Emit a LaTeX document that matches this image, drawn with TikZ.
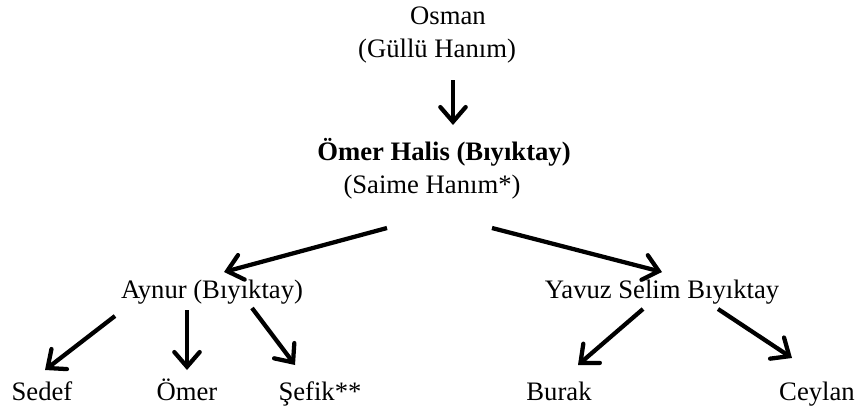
\documentclass[tikz,border=0pt]{standalone}
\usepackage{fontspec}
\setmainfont{Liberation Serif}
\usepackage{tikz}
\usetikzlibrary{arrows.meta,calc}
\tikzset{
  person/.style={anchor=base, inner sep=0pt, font=\fontsize{20}{24}\selectfont},
  arrow/.style={-{Straight Barb[length=11pt,width=19pt,line cap=round]}, line width=3.2pt},
}

\begin{document}
\begin{tikzpicture}[x=0.75pt, y=-0.75pt]
  \useasboundingbox (0,0) rectangle (859,410);
  \node[person] (osman)  at (448,25)  {Osman};
  \node[person] (gullu)  at (437,58)  {(Güllü Hanım)};
  \node[person, font=\fontsize{20}{24}\selectfont\bfseries] (omerhalis) at (444,160) {Ömer Halis (Bıyıktay)};
  \node[person] (saime)  at (432,193) {(Saime Hanım*)};
  \node[person] (aynur)  at (212,298) {Aynur (Bıyıktay)};
  \node[person] (yavuz)  at (662,298) {Yavuz Selim Bıyıktay};
  \node[person] (sedef)  at (42,400)  {Sedef};
  \node[person] (omer)   at (187,400) {Ömer};
  \node[person] (sefik)  at (320,400) {Şefik**};
  \node[person] (burak)  at (559,400) {Burak};
  \node[person] (ceylan) at (817,400) {Ceylan};
  \draw[arrow] ($(gullu.base)+(16,22)$) -- ($(omerhalis.base)+(9,-35)$);
  \draw[arrow] ($(saime.base)+(-45,35)$) -- ($(aynur.base)+(12,-26)$);
  \draw[arrow] ($(saime.base)+(60,35)$) -- ($(yavuz.base)+(0,-26)$);
  \draw[arrow] ($(aynur.base)+(-97,18)$) -- ($(sedef.base)+(3,-30)$);
  \draw[arrow] ($(aynur.base)+(-25,12)$) -- ($(omer.base)+(0,-30)$);
  \draw[arrow] ($(aynur.base)+(40,10)$) -- ($(sefik.base)+(-25,-35)$);
  \draw[arrow] ($(yavuz.base)+(-19,11)$) -- ($(burak.base)+(19,-35)$);
  \draw[arrow] ($(yavuz.base)+(56,11)$) -- ($(ceylan.base)+(-25,-42)$);
\end{tikzpicture}
\end{document}
